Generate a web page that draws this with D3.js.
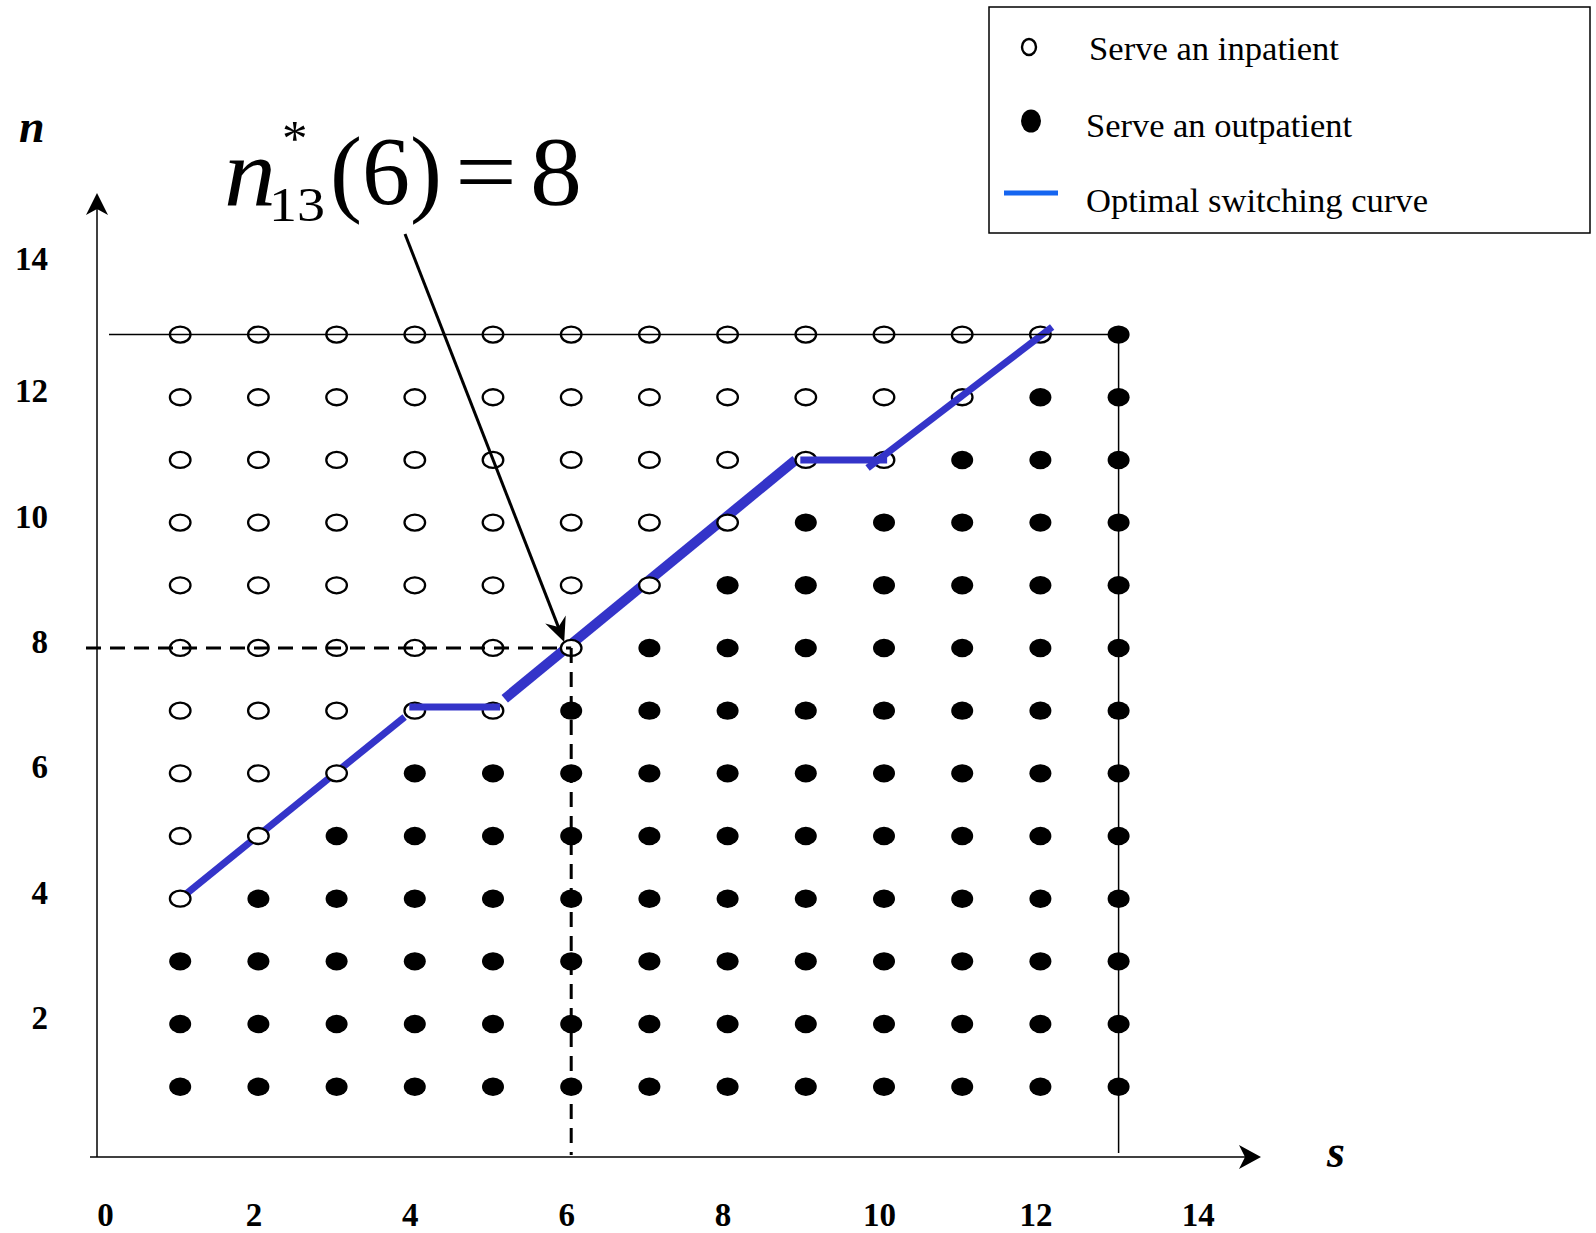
<!DOCTYPE html>
<html>
<head>
<meta charset="utf-8">
<script src="https://cdn.jsdelivr.net/npm/d3@7"></script>
<style>
body { margin: 0; background: #fff; }
text { font-family: "Liberation Serif", "Times New Roman", serif; fill: #000; }
</style>
</head>
<body>
<svg id="chart"></svg>
<script>
// grid of states: s = scheduled outpatients, n = inpatients
const sValues = [1, 2, 3, 4, 5, 6, 7, 8, 9, 10, 11, 12, 13];
const nLevels = [13, 12, 11, 10, 9, 8, 7, 6, 5, 4, 3, 2, 1];
// largest s where an inpatient is served, for each n above
const inpatientUpTo = [12, 11, 10, 8, 7, 6, 5, 3, 2, 1, 0, 0, 0];

// switching curve pieces, as drawn
const curveStart = [[1, 4], [3.93, 7.06], [5.15, 7.19], [8.93, 11.0], [9.79, 10.87]];
const curveEnd = [[3.87, 6.9], [5.09, 7.06], [8.87, 11.0], [10.04, 11.0], [12.15, 13.12]];

const xTicks = [0, 2, 4, 6, 8, 10, 12, 14];
const yTicks = [2, 4, 6, 8, 10, 12, 14];
const highlight = [6, 8];
const boundary = 13;

const legendLabels = ['Serve an inpatient', 'Serve an outpatient', 'Optimal switching curve'];

const width = 1596;
const height = 1233;
const blue = '#3434c9';

const x = d3.scaleLinear().domain([0, 14]).range([102, 1196.8]);
const y = d3.scaleLinear().domain([0, 14]).range([1149.4, 271.9]);

const svg = d3.select('#chart')
    .attr('width', width)
    .attr('height', height);

const axisX = 97, axisY = 1157;

function arrowHead(g, tx, ty, angle, len, half, notch) {
    const a = angle * Math.PI / 180;
    const pts = [[0, 0], [-len, -half], [-len + notch, 0], [-len, half]]
        .map(([px, py]) => [tx + px * Math.cos(a) - py * Math.sin(a), ty + px * Math.sin(a) + py * Math.cos(a)]);
    g.append('path')
        .attr('d', 'M' + pts.map(p => p.join(',')).join('L') + 'Z')
        .attr('fill', '#000');
}

// axes
svg.append('line')
    .attr('x1', axisX).attr('x2', axisX)
    .attr('y1', 205).attr('y2', axisY)
    .attr('stroke', '#000').attr('stroke-width', 1.5);
arrowHead(svg, axisX, 193, -90, 22, 11, 6);

svg.append('line')
    .attr('x1', 90).attr('x2', 1250)
    .attr('y1', axisY).attr('y2', axisY)
    .attr('stroke', '#000').attr('stroke-width', 1.5);
arrowHead(svg, 1261, axisY, 0, 22, 12, 6);

const curveWidths = [7, 7, 10, 7, 7];
const underDots = [true, false, true, false, false];

function drawCurve(layer) {
    svg.append('g').selectAll('line')
        .data(curveStart.map((d, i) => ({ a: d, b: curveEnd[i], w: curveWidths[i], under: underDots[i] }))
            .filter(d => d.under === layer))
        .enter().append('line')
        .attr('x1', d => x(d.a[0])).attr('y1', d => y(d.a[1]))
        .attr('x2', d => x(d.b[0])).attr('y2', d => y(d.b[1]))
        .attr('stroke', blue)
        .attr('stroke-width', d => d.w);
}

drawCurve(true);

// states
const cells = [];
nLevels.forEach((n, i) => {
    sValues.forEach(s => cells.push({ s: s, n: n, inpatient: s <= inpatientUpTo[i] }));
});

svg.append('g').selectAll('ellipse')
    .data(cells)
    .enter().append('ellipse')
    .attr('cx', d => x(d.s))
    .attr('cy', d => y(d.n))
    .attr('rx', d => d.inpatient ? 10.3 : 11)
    .attr('ry', d => d.inpatient ? 8 : 9.2)
    .attr('fill', d => d.inpatient ? '#fff' : '#000')
    .attr('stroke', '#000')
    .attr('stroke-width', d => d.inpatient ? 2.3 : 0);

drawCurve(false);

// state space boundary
svg.append('line')
    .attr('x1', 109).attr('x2', x(boundary))
    .attr('y1', y(boundary)).attr('y2', y(boundary))
    .attr('stroke', '#000').attr('stroke-width', 1.5);
svg.append('line')
    .attr('x1', x(boundary)).attr('x2', x(boundary))
    .attr('y1', y(boundary)).attr('y2', 1153)
    .attr('stroke', '#000').attr('stroke-width', 1.5);

// dashed guides to n*(6) = 8
svg.append('line')
    .attr('x1', 86).attr('x2', x(highlight[0]))
    .attr('y1', y(highlight[1])).attr('y2', y(highlight[1]))
    .attr('stroke', '#000').attr('stroke-width', 3)
    .attr('stroke-dasharray', '15,9');
svg.append('line')
    .attr('x1', x(highlight[0])).attr('x2', x(highlight[0]))
    .attr('y1', y(highlight[1])).attr('y2', 1155)
    .attr('stroke', '#000').attr('stroke-width', 3)
    .attr('stroke-dasharray', '15,9');

// annotation arrow
const tipX = x(highlight[0]) - 7, tipY = y(highlight[1]) - 6;
const startX = 405, startY = 234;
const ang = Math.atan2(tipY - startY, tipX - startX) * 180 / Math.PI;
svg.append('line')
    .attr('x1', startX).attr('y1', startY)
    .attr('x2', tipX - 10 * Math.cos(ang * Math.PI / 180))
    .attr('y2', tipY - 10 * Math.sin(ang * Math.PI / 180))
    .attr('stroke', '#000').attr('stroke-width', 3);
arrowHead(svg, tipX, tipY, ang, 24, 11, 8);

// annotation text
const ann = svg.append('g');
ann.append('text').attr('x', 224).attr('y', 205)
    .attr('font-size', 98).attr('font-style', 'italic')
    .attr('textLength', 52).attr('lengthAdjust', 'spacingAndGlyphs')
    .text('n');
ann.append('text').attr('x', 282).attr('y', 155)
    .attr('font-size', 51)
    .text('*');
ann.append('text').attr('x', 269).attr('y', 221)
    .attr('font-size', 48)
    .attr('textLength', 56).attr('lengthAdjust', 'spacingAndGlyphs')
    .text('13');
ann.append('text').attr('x', 330).attr('y', 204)
    .attr('font-size', 98)
    .attr('textLength', 112).attr('lengthAdjust', 'spacingAndGlyphs')
    .text('(6)');
ann.append('text').attr('x', 455).attr('y', 204)
    .attr('font-size', 98)
    .attr('textLength', 62).attr('lengthAdjust', 'spacingAndGlyphs')
    .text('=');
ann.append('text').attr('x', 530).attr('y', 204)
    .attr('font-size', 98)
    .attr('textLength', 52).attr('lengthAdjust', 'spacingAndGlyphs')
    .text('8');

// tick labels
const xAxis = svg.append('g')
    .attr('transform', `translate(-5,1203)`)
    .call(d3.axisBottom(x).tickValues(xTicks).tickSize(0).tickPadding(0));
const yAxis = svg.append('g')
    .attr('transform', `translate(48,-6)`)
    .call(d3.axisLeft(y).tickValues(yTicks).tickSize(0).tickPadding(0));
[xAxis, yAxis].forEach(g => {
    g.select('.domain').remove();
    g.selectAll('text')
        .attr('font-family', '"Liberation Serif", "Times New Roman", serif')
        .attr('font-size', 33)
        .attr('font-weight', 'bold')
        .attr('fill', '#000');
});
xAxis.selectAll('text').attr('dx', d => d === 0 ? 8 : d === 14 ? 6 : 0);
yAxis.selectAll('text').attr('dy', d => d === 14 ? '0.1em' : '0.32em');

// axis names
svg.append('text').attr('x', 19).attr('y', 142)
    .attr('font-size', 46).attr('font-weight', 'bold').attr('font-style', 'italic')
    .text('n');
svg.append('text').attr('x', 1327).attr('y', 1167)
    .attr('font-size', 46).attr('font-weight', 'bold').attr('font-style', 'italic')
    .text('s');

// legend
const legend = svg.append('g');
legend.append('rect')
    .attr('x', 989).attr('y', 7)
    .attr('width', 601).attr('height', 226)
    .attr('fill', 'none')
    .attr('stroke', '#000').attr('stroke-width', 1.5);
legend.append('ellipse')
    .attr('cx', 1029).attr('cy', 47).attr('rx', 7).attr('ry', 8)
    .attr('fill', '#fff').attr('stroke', '#000').attr('stroke-width', 2.4);
legend.append('ellipse')
    .attr('cx', 1031).attr('cy', 121).attr('rx', 10).attr('ry', 11.5)
    .attr('fill', '#000');
legend.append('line')
    .attr('x1', 1004).attr('x2', 1058)
    .attr('y1', 193).attr('y2', 193)
    .attr('stroke', '#1565f0').attr('stroke-width', 5);
const legendX = [1089, 1086, 1086];
const legendY = [60, 137, 212];
const legendLen = [250, 266, 342];
legend.selectAll('text.lbl')
    .data(legendLabels)
    .enter().append('text')
    .attr('class', 'lbl')
    .attr('x', (d, i) => legendX[i])
    .attr('y', (d, i) => legendY[i])
    .attr('font-size', 33)
    .attr('textLength', (d, i) => legendLen[i])
    .attr('lengthAdjust', 'spacingAndGlyphs')
    .text(d => d);
</script>
</body>
</html>
